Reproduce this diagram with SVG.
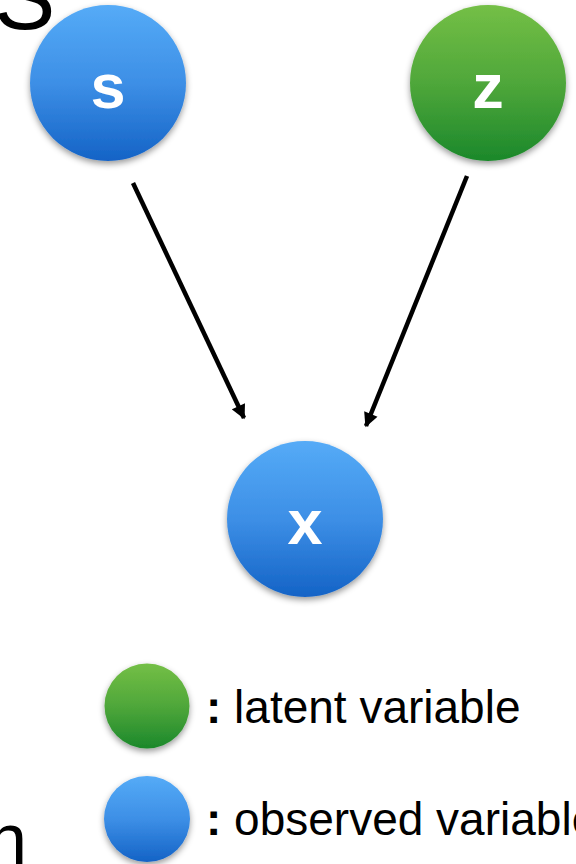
<svg xmlns="http://www.w3.org/2000/svg" width="576" height="864" viewBox="0 0 576 864">
  <style>
    .lbl { font-family: "Liberation Sans", Arial, sans-serif; font-weight: bold; font-size: 63px; fill: #ffffff; text-anchor: middle; }
    .leg { font-family: "Liberation Sans", Arial, sans-serif; font-size: 46px; fill: #000000; }
    .leg tspan.c { font-weight: bold; }
    .big { font-family: "Liberation Sans", Arial, sans-serif; fill: #000000; }
    .edge { stroke: #000000; stroke-width: 4.5; fill: none; marker-end: url(#arrow); }
  </style>
  <defs>
    <linearGradient id="blue" x1="0" y1="0" x2="0" y2="1">
      <stop offset="0" stop-color="#55abf7"/>
      <stop offset="0.5" stop-color="#3d8fe6"/>
      <stop offset="1" stop-color="#1463c6"/>
    </linearGradient>
    <linearGradient id="green" x1="0" y1="0" x2="0" y2="1">
      <stop offset="0" stop-color="#74bf46"/>
      <stop offset="0.5" stop-color="#4fa73a"/>
      <stop offset="1" stop-color="#1b882b"/>
    </linearGradient>
    <filter id="shadow" x="-20%" y="-20%" width="140%" height="150%">
      <feDropShadow dx="0" dy="3" stdDeviation="3" flood-color="#000000" flood-opacity="0.4"/>
    </filter>
    <marker id="arrow" viewBox="0 0 10 10" refX="9" refY="5" markerWidth="3.6" markerHeight="3.2" orient="auto" markerUnits="strokeWidth">
      <path d="M0,0 L10,5 L0,10 Z" fill="#000000"/>
    </marker>
  </defs>

  <!-- partial heading letters at the page edges -->
  <text class="big" x="-6" y="29" font-size="92">S</text>
  <text class="big" x="-13" y="864" font-size="72">n</text>

  <!-- connectors -->
  <g id="edges">
    <line class="edge" x1="133" y1="183" x2="244" y2="418"/>
    <line class="edge" x1="467" y1="176" x2="366" y2="426"/>
  </g>

  <g id="node-s">
    <circle cx="108" cy="83" r="78" fill="url(#blue)" filter="url(#shadow)"/>
    <text class="lbl" x="108" y="108">s</text>
  </g>

  <g id="node-z">
    <circle cx="488" cy="83" r="78" fill="url(#green)" filter="url(#shadow)"/>
    <text class="lbl" x="488" y="108">z</text>
  </g>

  <g id="node-x">
    <circle cx="305" cy="519" r="78" fill="url(#blue)" filter="url(#shadow)"/>
    <text class="lbl" x="305" y="544">x</text>
  </g>

  <!-- legend -->
  <g id="legend-latent">
    <circle cx="147" cy="706" r="42.5" fill="url(#green)" filter="url(#shadow)"/>
    <text class="leg" x="206" y="723"><tspan class="c">:</tspan> latent variable</text>
  </g>
  <g id="legend-observed">
    <circle cx="147" cy="819" r="43" fill="url(#blue)" filter="url(#shadow)"/>
    <text class="leg" x="206" y="835"><tspan class="c">:</tspan> observed variable</text>
  </g>
</svg>
